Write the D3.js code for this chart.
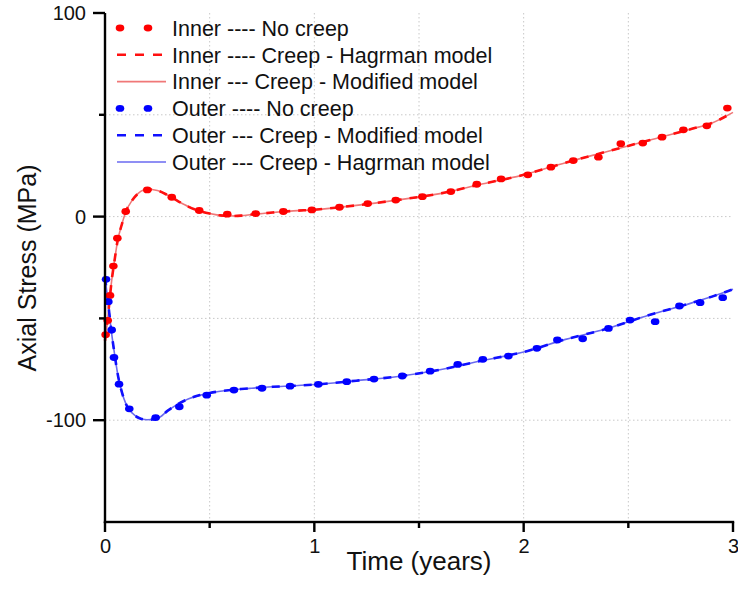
<!DOCTYPE html>
<html>
<head>
    <meta charset="utf-8">
    <script src="https://d3js.org/d3.v7.min.js"></script>
    <style>
        body { margin: 0; background: #fff; }
        text { font-family: "Liberation Sans", Arial, sans-serif; }
    </style>
</head>
<body>
<script>

    // model curves (time in years, axial stress in MPa)
    var modelTimes = [0, 0.01, 0.02, 0.03, 0.045, 0.06, 0.08, 0.1, 0.13, 0.16, 0.2, 0.25, 0.3,
        0.35, 0.4, 0.45, 0.5, 0.55, 0.6, 0.65, 0.7, 0.8, 0.9, 1.0, 1.2, 1.4, 1.6, 1.8,
        2.0, 2.2, 2.4, 2.6, 2.8, 2.9, 3.0];
    var innerHagrman = [-61, -53, -43, -33, -22, -12, -4, 2.5, 8, 11.5, 13.4, 12.8, 10.5,
        7.5, 4.8, 2.8, 1.5, 0.6, 0.3, 0.5, 1.0, 2.0, 2.8, 3.4, 5.5, 8.2, 11.3, 16,
        20.5, 26.5, 32, 37.5, 43, 46, 51.2];
    var innerModified = [-61, -53, -43, -33, -22, -12, -4, 2.5, 8, 11.5, 13.4, 12.8, 10.5,
        7.5, 4.8, 2.8, 1.5, 0.6, 0.3, 0.5, 1.0, 2.0, 2.8, 3.4, 5.5, 8.2, 11.3, 16,
        20.5, 26.5, 32, 37.5, 43, 46, 51.2];
    var outerModified = [-30, -38, -47, -56, -67, -77, -86, -92, -96.5, -98.8, -99.8, -99.2, -95.3,
        -92, -89.5, -87.8, -86.6, -85.8, -85.2, -84.7, -84.3, -83.6, -83.1, -82.5, -80.6, -78.5, -75.2, -70.8,
        -66.5, -60.3, -55, -48.3, -42.5, -39.3, -35.7];
    var outerHagrman = [-30, -38, -47, -56, -67, -77, -86, -92, -96.5, -98.8, -99.8, -99.2, -95.3,
        -92, -89.5, -87.8, -86.6, -85.8, -85.2, -84.7, -84.3, -83.6, -83.1, -82.5, -80.6, -78.5, -75.2, -70.8,
        -66.5, -60.3, -55, -48.3, -42.5, -39.3, -35.7];

    // no creep results
    var innerDotTimes = [0.003, 0.013, 0.024, 0.04, 0.059, 0.099, 0.202, 0.319, 0.45, 0.584, 0.72, 0.852,
        0.988, 1.12, 1.255, 1.389, 1.516, 1.652, 1.776, 1.892, 2.02, 2.13, 2.237, 2.357,
        2.464, 2.569, 2.661, 2.763, 2.875, 2.973];
    var innerNoCreep = [-58, -51, -38.7, -24.3, -10.6, 2.5, 13.1, 9.5, 3, 1.2, 1.5, 2.5,
        3.3, 4.6, 6.4, 8.1, 9.8, 12.3, 15.9, 18.5, 20.5, 24.3, 27.5, 29.2,
        35.8, 36.1, 39, 42.6, 44.6, 53.3];
    var outerDotTimes = [0.005, 0.016, 0.032, 0.043, 0.067, 0.116, 0.242, 0.355, 0.486, 0.616, 0.75, 0.884,
        1.019, 1.155, 1.285, 1.42, 1.553, 1.685, 1.805, 1.927, 2.063, 2.161, 2.282, 2.405,
        2.508, 2.628, 2.744, 2.843, 2.951];
    var outerNoCreep = [-30.8, -41.8, -55.7, -69.2, -82.3, -94.4, -98.7, -93.4, -87.7, -85.2, -84.3, -83.3,
        -82.4, -81.1, -79.8, -78.3, -75.9, -72.6, -70.1, -68.5, -64.7, -60.6, -60, -54.9,
        -50.8, -51.6, -43.9, -42.3, -39.8];

    var xMajor = [0, 1, 2, 3];
    var xMinor = [0.5, 1.5, 2.5];
    var yMajor = [-100, 0, 100];
    var yMinor = [-50, 50];
    var xGrid = [0.5, 1, 1.5, 2, 2.5];
    var yGrid = [-100, -50, 0, 50];

    var legendLabels = ['Inner ---- No creep', 'Inner ---- Creep - Hagrman model',
        'Inner --- Creep - Modified model', 'Outer ---- No creep',
        'Outer --- Creep - Modified model', 'Outer --- Creep - Hagrman model'];

    var width = 738, height = 604;

    var xScale = d3.scaleLinear().domain([0, 3]).range([105, 733]);
    var yScale = d3.scaleLinear().domain([-150, 100]).range([522, 13]);

    var svg = d3.select('body').append('svg')
        .attr('width', width)
        .attr('height', height);

    // grid
    var grid = svg.append('g')
        .attr('stroke', '#c8c8c8')
        .attr('stroke-width', 1)
        .attr('stroke-dasharray', '1.5,2.5');
    grid.selectAll('.vg').data(xGrid).enter().append('line')
        .attr('x1', function(d) {return xScale(d)}).attr('x2', function(d) {return xScale(d)})
        .attr('y1', yScale(100)).attr('y2', yScale(-150));
    grid.selectAll('.hg').data(yGrid).enter().append('line')
        .attr('y1', function(d) {return yScale(d)}).attr('y2', function(d) {return yScale(d)})
        .attr('x1', xScale(0)).attr('x2', xScale(3));

    function pairs(ts, vs) {
        return ts.map(function(t, i) {return [t, vs[i]]});
    }

    var line = d3.line()
        .x(function(d) {return xScale(d[0])})
        .y(function(d) {return yScale(d[1])})
        .curve(d3.curveMonotoneX);

    var styles = {
        innerSolid: {stroke: '#f07878', width: 1.6, dash: null},
        innerDash: {stroke: '#ff1010', width: 2.6, dash: '8,8'},
        outerSolid: {stroke: '#6a6af0', width: 1.6, dash: null},
        outerDash: {stroke: '#1010ff', width: 2.6, dash: '8,8'}
    };

    function drawLine(data, st) {
        svg.append('path')
            .attr('d', line(data))
            .attr('fill', 'none')
            .attr('stroke', st.stroke)
            .attr('stroke-width', st.width)
            .attr('stroke-dasharray', st.dash);
    }

    drawLine(pairs(modelTimes, innerModified), styles.innerSolid);
    drawLine(pairs(modelTimes, outerHagrman), styles.outerSolid);
    drawLine(pairs(modelTimes, innerHagrman), styles.innerDash);
    drawLine(pairs(modelTimes, outerModified), styles.outerDash);

    function drawDots(data, color) {
        svg.append('g').selectAll('ellipse').data(data).enter().append('ellipse')
            .attr('cx', function(d) {return xScale(d[0])})
            .attr('cy', function(d) {return yScale(d[1])})
            .attr('rx', 4.3)
            .attr('ry', 3.4)
            .attr('fill', color);
    }
    drawDots(pairs(innerDotTimes, innerNoCreep), '#ff0000');
    drawDots(pairs(outerDotTimes, outerNoCreep), '#0000ff');

    // axes: labels from d3 axis, tick marks as filled rects
    var x0 = xScale(0), yBase = yScale(-150);
    var xAxis = d3.axisBottom(xScale).tickValues(xMajor).tickSize(10).tickPadding(7)
        .tickFormat(function(d) {return String(d)});
    var gX = svg.append('g').attr('transform', 'translate(0,' + yBase + ')').call(xAxis);

    var yAxis = d3.axisLeft(yScale).tickValues(yMajor).tickSize(12).tickPadding(7)
        .tickFormat(function(d) {return String(d)});
    var gY = svg.append('g').attr('transform', 'translate(' + x0 + ',0)').call(yAxis);

    [gX, gY].forEach(function(g) {
        g.select('.domain').remove();
        g.selectAll('.tick line').remove();
        g.selectAll('text').attr('font-size', 20).attr('fill', '#111')
            .attr('font-family', '"Liberation Sans", Arial, sans-serif');
    });

    var marks = svg.append('g').attr('fill', '#000');
    marks.append('rect').attr('x', x0 - 1.2).attr('y', yBase - 1.2)
        .attr('width', xScale(3) - x0 + 2.4).attr('height', 2.4);
    marks.append('rect').attr('x', x0 - 1.2).attr('y', yScale(100))
        .attr('width', 2.4).attr('height', yBase - yScale(100) + 1);
    marks.selectAll('rect.xt').data(xMajor.concat(xMinor)).enter().append('rect')
        .attr('class', 'xt')
        .attr('x', function(d) {return xScale(d) - 1.2})
        .attr('y', yBase)
        .attr('width', 2.4)
        .attr('height', function(d) {return xMajor.indexOf(d) >= 0 ? 10 : 6});
    marks.selectAll('rect.yt').data(yMajor.concat(yMinor)).enter().append('rect')
        .attr('class', 'yt')
        .attr('x', function(d) {return x0 - (yMajor.indexOf(d) >= 0 ? 12 : 6)})
        .attr('y', function(d) {return yScale(d) - 1.2})
        .attr('width', function(d) {return yMajor.indexOf(d) >= 0 ? 12 : 6})
        .attr('height', 2.4);

    // axis titles
    svg.append('text')
        .attr('x', (xScale(0) + xScale(3)) / 2)
        .attr('y', 570)
        .attr('text-anchor', 'middle')
        .attr('font-size', 26)
        .attr('fill', '#111')
        .text('Time (years)');

    svg.append('text')
        .attr('transform', 'translate(36,' + 268 + ') rotate(-90)')
        .attr('text-anchor', 'middle')
        .attr('font-size', 25)
        .attr('fill', '#111')
        .text('Axial Stress (MPa)');

    // legend
    var legend = svg.append('g');
    var rowY = d3.scaleLinear().domain([0, 5]).range([28, 162]);
    var legendKinds = [
        {type: 'dot', color: '#ff0000'},
        {type: 'line', st: styles.innerDash},
        {type: 'line', st: styles.innerSolid},
        {type: 'dot', color: '#0000ff'},
        {type: 'line', st: styles.outerDash},
        {type: 'line', st: styles.outerSolid}
    ];
    legendKinds.forEach(function(k, i) {
        var y = rowY(i);
        if (k.type === 'dot') {
            [120, 148].forEach(function(cx) {
                legend.append('ellipse').attr('cx', cx).attr('cy', y)
                    .attr('rx', 4.3).attr('ry', 3.4).attr('fill', k.color);
            });
        } else {
            legend.append('line')
                .attr('x1', 117).attr('x2', 166)
                .attr('y1', y).attr('y2', y)
                .attr('stroke', k.st.stroke)
                .attr('stroke-width', k.st.width)
                .attr('stroke-dasharray', k.st.dash ? '9,9' : null);
        }
        legend.append('text')
            .attr('x', 172)
            .attr('y', y)
            .attr('dy', '0.36em')
            .attr('font-size', 21.5)
            .attr('fill', '#111')
            .text(legendLabels[i]);
    });

</script>
</body>
</html>
